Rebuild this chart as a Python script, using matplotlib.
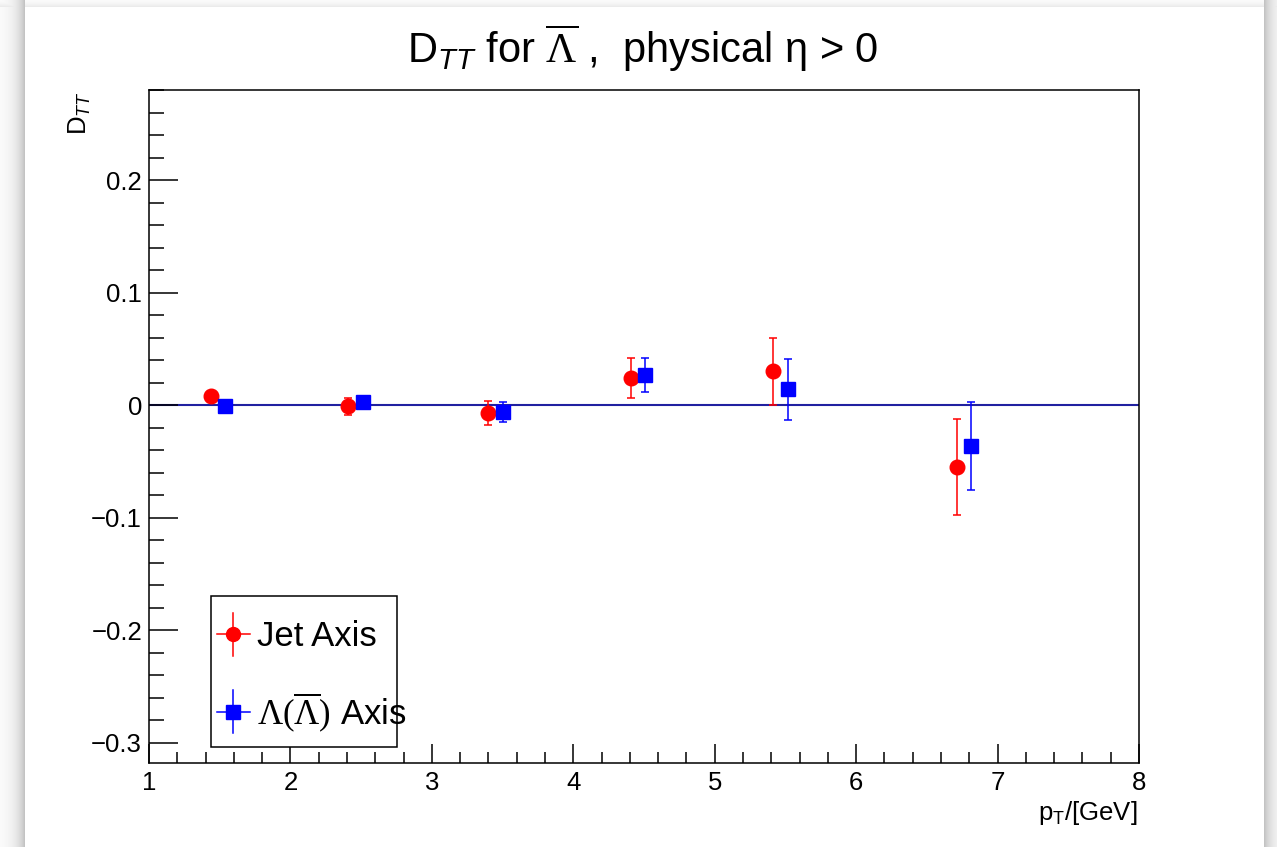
import numpy as np
import matplotlib
matplotlib.use("Agg")
import matplotlib.pyplot as plt
from matplotlib.lines import Line2D
from matplotlib.patches import Rectangle
from matplotlib.legend_handler import HandlerBase
from matplotlib.ticker import MultipleLocator

plt.rcParams['font.family'] = ['Liberation Sans', 'DejaVu Sans']
plt.rcParams['mathtext.fontset'] = 'custom'
plt.rcParams['mathtext.rm'] = 'Liberation Serif'
plt.rcParams['mathtext.it'] = 'Liberation Sans:italic'
plt.rcParams['mathtext.sf'] = 'Liberation Sans'

# D_TT vs pT, jet axis and Lambda axis (points shifted apart in x)
pt_jet = [1.44, 2.41, 3.40, 4.41, 5.41, 6.71]
dtt_jet = [0.008, -0.001, -0.007, 0.024, 0.030, -0.055]
err_jet = [0.004, 0.0075, 0.0107, 0.0175, 0.030, 0.043]

pt_lam = [1.54, 2.51, 3.50, 4.51, 5.52, 6.81]
dtt_lam = [-0.001, 0.0027, -0.0062, 0.027, 0.014, -0.036]
err_lam = [0.004, 0.004, 0.0089, 0.015, 0.027, 0.039]

ytick_vals = [-0.3, -0.2, -0.1, 0, 0.1, 0.2]
ytick_text = ['\u22120.3', '\u22120.2', '\u22120.1', '0', '0.1', '0.2']

W, H = 1277, 847
fig = plt.figure(figsize=(W / 100, H / 100), dpi=100)

# page with a soft drop shadow behind it
bg = fig.add_axes([0, 0, 1, 1], zorder=-10)
xx, yy = np.meshgrid(np.arange(W), np.arange(H))
dx = np.maximum(np.maximum(25 - xx, xx - 1263), 0)
dy = np.maximum(7 - yy, 0)
side = 0.26 * np.exp(-dx / 9.0) * (dx > 0)
top = 0.10 * np.exp(-dy / 4.0) * (dy > 0)
shade = 1 - np.maximum(side, top)
bg.imshow(np.dstack([shade] * 3), extent=[0, W, H, 0], aspect='auto')
bg.set_axis_off()

ax = fig.add_axes([149 / W, (H - 763) / H, 990 / W, 673 / H])
ax.set_xlim(1, 8)
ax.set_ylim(-0.318, 0.28)

ax.axhline(0, color='#2020a0', lw=1.5, zorder=1)

ax.errorbar(pt_jet, dtt_jet, yerr=err_jet, fmt='o', color='red', ms=10.5,
            elinewidth=1.1, capsize=3, capthick=1.1, zorder=3)
ax.errorbar(pt_lam, dtt_lam, yerr=err_lam, fmt='s', color='blue', ms=10,
            elinewidth=1.1, capsize=3, capthick=1.1, zorder=3)

for s in ax.spines.values():
    s.set_linewidth(1.1)
ax.xaxis.set_major_locator(MultipleLocator(1))
ax.xaxis.set_minor_locator(MultipleLocator(0.2))
ax.yaxis.set_minor_locator(MultipleLocator(0.02))
ax.set_yticks(ytick_vals)
ax.set_yticklabels(ytick_text)
ax.tick_params(axis='both', which='both', direction='in', width=1.1,
               labelsize=18.5)
ax.tick_params(axis='y', which='major', length=21, pad=5)
ax.tick_params(axis='y', which='minor', length=11)
ax.tick_params(axis='x', which='major', length=14, pad=6)
ax.tick_params(axis='x', which='minor', length=8)


class HandlerCross(HandlerBase):
    # marker with horizontal and vertical error bars, like ROOT "lep"
    def create_artists(self, legend, orig_handle, xdescent, ydescent,
                       width, height, fontsize, trans):
        c = orig_handle.get_color()
        cx = width / 2 - xdescent
        cy = height / 2 - ydescent
        hl = Line2D([cx - width / 2, cx + width / 2], [cy, cy], color=c,
                    lw=1.1, transform=trans)
        vl = Line2D([cx, cx], [cy - 15.5, cy + 15.5],
                    color=c, lw=1.1, transform=trans)
        mk = Line2D([cx], [cy], marker=orig_handle.get_marker(), color=c,
                    ms=10, ls='none', transform=trans)
        return [hl, vl, mk]


# legend box, text is allowed to run past its right edge
fig.patches.append(Rectangle((211 / W, (H - 747) / H), 186 / W, 151 / H,
                             transform=fig.transFigure, facecolor='white',
                             edgecolor='black', lw=1.1, zorder=4))

h_jet = Line2D([], [], color='red', marker='o')
h_lam = Line2D([], [], color='blue', marker='s')
leg = fig.legend([h_jet, h_lam],
                 ['Jet Axis', r'$\Lambda(\overline{\Lambda})$ Axis'],
                 handler_map={Line2D: HandlerCross()},
                 loc='center left', bbox_to_anchor=(217 / W, (H - 677) / H),
                 bbox_transform=fig.transFigure, borderaxespad=0,
                 borderpad=0, fontsize=25, handlelength=0.95,
                 handletextpad=0.2, labelspacing=1.05, frameon=False)
leg.set_zorder(5)

fig.text(643 / W, 1 - 48 / H,
         'D$_{\\mathit{TT}}$ for $\\overline{\\Lambda}$ ,  physical \u03b7 > 0',
         ha='center', va='center', fontsize=30)
fig.text(80 / W, 1 - 91 / H, r'D$_{\mathit{TT}}$', rotation=90,
         ha='center', va='top', fontsize=18.5)
fig.text(1137 / W, 1 - 820 / H, r'p$_{\mathsf{T}}$/[GeV]',
         ha='right', va='baseline', fontsize=18.5)

fig.savefig('out.png', dpi=100)
